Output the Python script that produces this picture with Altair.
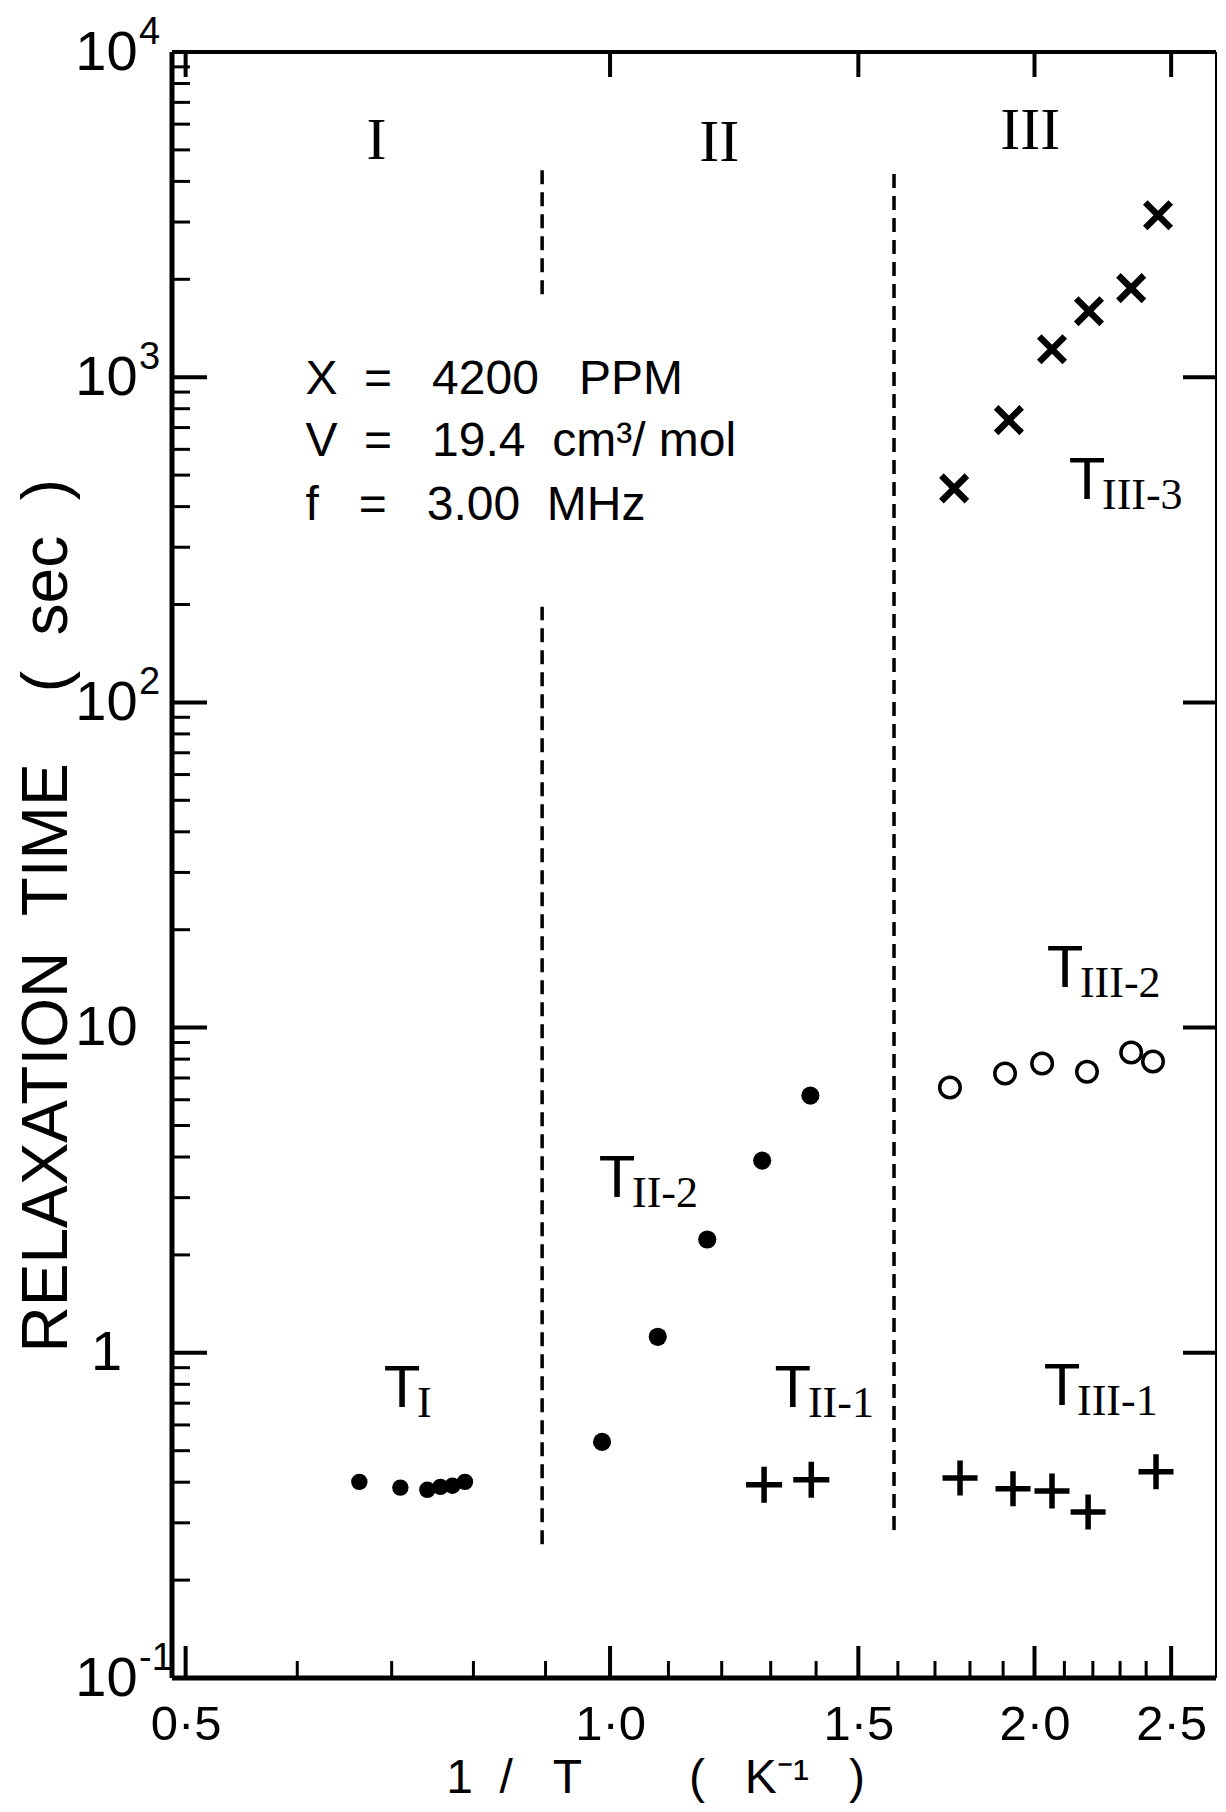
import altair as alt
import pandas as pd

# ---------------- data ----------------
# T_I (filled circles)
tI_x = [0.664, 0.710, 0.742, 0.758, 0.773, 0.789]
tI_y = [0.401, 0.385, 0.379, 0.387, 0.390, 0.401]
# T_II-2 (filled circles)
tII2_x = [0.987, 1.081, 1.172, 1.282, 1.387]
tII2_y = [0.532, 1.12, 2.23, 3.90, 6.18]
# T_II-1 (plus)
tII1_x = [1.286, 1.389]
tII1_y = [0.393, 0.407]
# T_III-1 (plus)
tIII1_x = [1.771, 1.931, 2.058, 2.183, 2.439]
tIII1_y = [0.412, 0.382, 0.376, 0.324, 0.431]
# T_III-2 (open circles)
tIII2_x = [1.742, 1.906, 2.025, 2.179, 2.342, 2.427]
tIII2_y = [6.54, 7.22, 7.75, 7.32, 8.38, 7.86]
# T_III-3 (crosses)
tIII3_x = [1.754, 1.918, 2.058, 2.186, 2.342, 2.447]
tIII3_y = [455, 738, 1219, 1596, 1879, 3148]

# region separators (dashed)
sep_x = [0.895, 0.895, 1.59]
sep_y1 = [1800, 0.258, 0.285]
sep_y2 = [4335, 197, 4274]

# region labels
reg_x = [0.683, 1.195, 1.986]
reg_y = [4688, 4624, 5030]
reg_t = ["I", "II", "III"]

# series labels (T + subscript)
lab_x = [0.712, 1.348, 1.0115, 2.092, 2.102, 2.179]
lab_y = [0.682, 0.682, 3.02, 0.692, 13.37, 421]
lab_sub = ["I", "II-1", "II-2", "III-1", "III-2", "III-3"]

# info text
NB = "\u00a0"
info_x = [0.608, 0.608, 0.608]
info_y = [887, 571, 363]
info_t = [
    f"X{NB*2}={NB*3}4200{NB*3}PPM",
    f"V{NB*2}={NB*3}19.4{NB*2}cm³/{NB}mol",
    f"f{NB*3}={NB*3}3.00{NB*2}MHz",
]

# axis ticks / labels
x_major = [0.5, 1.0, 1.5, 2.0, 2.5]
x_minor = [0.6, 0.7, 0.8, 0.9, 1.1, 1.2, 1.3, 1.4, 1.6, 1.7, 1.8, 1.9,
           2.1, 2.2, 2.3, 2.4]
y_major = [0.1, 1, 10, 100, 1000, 10000]
y_minor = [2, 3, 4, 5, 6, 7, 8, 9,
           20, 30, 40, 50, 60, 70, 80, 90,
           200, 300, 400, 500, 600, 700, 800, 900,
           2000, 3000, 4000, 5000, 6000, 7000, 8000, 9000,
           0.2, 0.3, 0.4, 0.5, 0.6, 0.7, 0.8, 0.9]
y_inner = [1, 10, 100, 1000]
exp_vals = [0.1, 100, 1000, 10000]
exp_text = ["-1", "2", "3", "4"]

x_title = f"1{NB*2}/{NB*3}T{NB*8}({NB*3}K⁻¹{NB*3})"
y_title = f"RELAXATION{NB*2}TIME{NB*4}({NB*2}sec{NB*2})"

# ---------------- chart ----------------
W, H = 1044, 1626
SANS = "Liberation Sans"
SERIF = "Liberation Serif"
xs = alt.Scale(type="log", domain=[0.489, 2.69], nice=False)
ys = alt.Scale(type="log", domain=[0.1, 10000], nice=False)

x_axis = alt.Axis(
    values=x_major,
    labelExpr="replace(format(datum.value, '.1f'), '.', '·')",
    ticks=False, domain=False, grid=False,
    labelFont=SANS, labelFontSize=49, labelPadding=22, labelColor="black",
    labelFlush=False, labelOverlap=False,
    title=x_title, titleFont=SANS, titleFontSize=48, titleFontWeight="normal",
    titleColor="black", titleX=483, titleY=114, titleAlign="center",
    titleBaseline="alphabetic",
)
y_axis = alt.Axis(
    values=y_major,
    labelExpr="datum.value == 1 ? '1' : '10'",
    ticks=False, domain=False, grid=False,
    labelFont=SANS, labelFontSize=56, labelPadding=66, labelColor="black",
    labelAlign="center", labelBaseline="middle", labelFlush=False,
    labelOverlap=False,
    title=y_title, titleFont=SANS, titleFontSize=64, titleFontWeight="normal",
    titleColor="black", titleAngle=270, titleX=-125, titleY=1300,
    titleAlign="left", titleBaseline="middle",
)


def X(f):
    return alt.X(f, type="quantitative", scale=xs, axis=x_axis)


def Y(f):
    return alt.Y(f, type="quantitative", scale=ys, axis=y_axis)


one = pd.DataFrame({"a": [0]})

# ticks
bx_major = alt.Chart(pd.DataFrame({"v": x_major})).mark_rule(
    color="black", strokeWidth=4).encode(
    x=X("v"), y=alt.value(H), y2=alt.value(H - 32))
bx_minor = alt.Chart(pd.DataFrame({"v": x_minor})).mark_rule(
    color="black", strokeWidth=3).encode(
    x=X("v"), y=alt.value(H), y2=alt.value(H - 17))
tx_major = alt.Chart(pd.DataFrame({"v": x_major})).mark_rule(
    color="black", strokeWidth=4).encode(
    x=X("v"), y=alt.value(0), y2=alt.value(25))
ly_major = alt.Chart(pd.DataFrame({"v": y_major})).mark_rule(
    color="black", strokeWidth=4).encode(
    y=Y("v"), x=alt.value(0), x2=alt.value(35))
ly_minor = alt.Chart(pd.DataFrame({"v": y_minor})).mark_rule(
    color="black", strokeWidth=3).encode(
    y=Y("v"), x=alt.value(0), x2=alt.value(18))
ry_major = alt.Chart(pd.DataFrame({"v": y_inner})).mark_rule(
    color="black", strokeWidth=4).encode(
    y=Y("v"), x=alt.value(W), x2=alt.value(W - 33))

# exponents of the y labels
exps = alt.Chart(pd.DataFrame({"v": exp_vals, "t": exp_text})).mark_text(
    font=SANS, fontSize=38, align="left", baseline="alphabetic", dy=-8,
    color="black").encode(y=Y("v"), x=alt.value(-33), text="t:N")

# frame
frame_l = alt.Chart(one).mark_rule(color="black", strokeWidth=5).encode(
    x=alt.value(0), y=alt.value(0), y2=alt.value(H))
frame_b = alt.Chart(one).mark_rule(color="black", strokeWidth=5).encode(
    y=alt.value(H), x=alt.value(0), x2=alt.value(W))
frame_t = alt.Chart(one).mark_rule(color="black", strokeWidth=4).encode(
    y=alt.value(0), x=alt.value(0), x2=alt.value(W))
frame_r = alt.Chart(one).mark_rule(color="black", strokeWidth=2).encode(
    x=alt.value(W), y=alt.value(0), y2=alt.value(H))

# separators
seps = alt.Chart(pd.DataFrame({"x": sep_x, "y1": sep_y1, "y2": sep_y2})).mark_rule(
    color="black", strokeWidth=3.5, strokeDash=[14, 8]).encode(
    x=X("x"), y=Y("y1"), y2="y2:Q")

PLUS = "M-1,0L1,0M0,-1L0,1"
CROSS = "M-1,-1L1,1M-1,1L1,-1"

pts_tI = alt.Chart(pd.DataFrame({"x": tI_x, "y": tI_y})).mark_circle(
    size=270, color="black", opacity=1).encode(x=X("x"), y=Y("y"))
pts_tII2 = alt.Chart(pd.DataFrame({"x": tII2_x, "y": tII2_y})).mark_circle(
    size=330, color="black", opacity=1).encode(x=X("x"), y=Y("y"))
pts_tII1 = alt.Chart(pd.DataFrame({"x": tII1_x, "y": tII1_y})).mark_point(
    shape=PLUS, size=1300, strokeWidth=5.5, color="black", filled=False,
    opacity=1).encode(x=X("x"), y=Y("y"))
pts_tIII1 = alt.Chart(pd.DataFrame({"x": tIII1_x, "y": tIII1_y})).mark_point(
    shape=PLUS, size=1225, strokeWidth=5.5, color="black", filled=False,
    opacity=1).encode(x=X("x"), y=Y("y"))
pts_tIII2 = alt.Chart(pd.DataFrame({"x": tIII2_x, "y": tIII2_y})).mark_point(
    shape="circle", size=420, strokeWidth=3.5, color="black", filled=False,
    opacity=1).encode(x=X("x"), y=Y("y"))
pts_tIII3 = alt.Chart(pd.DataFrame({"x": tIII3_x, "y": tIII3_y})).mark_point(
    shape=CROSS, size=650, strokeWidth=6.5, color="black", filled=False,
    opacity=1).encode(x=X("x"), y=Y("y"))

# texts
regions = alt.Chart(pd.DataFrame({"x": reg_x, "y": reg_y, "t": reg_t})).mark_text(
    font=SERIF, fontSize=60, align="center", baseline="alphabetic",
    color="black").encode(x=X("x"), y=Y("y"), text="t:N")
lab_df = pd.DataFrame({"x": lab_x, "y": lab_y, "s": lab_sub})
lab_T = alt.Chart(lab_df).mark_text(
    text="T", font=SANS, fontSize=60, align="center", baseline="alphabetic",
    color="black").encode(x=X("x"), y=Y("y"))
lab_S = alt.Chart(lab_df).mark_text(
    font=SERIF, fontSize=44, align="left", baseline="alphabetic", dx=15, dy=10,
    color="black").encode(x=X("x"), y=Y("y"), text="s:N")
info = alt.Chart(pd.DataFrame({"x": info_x, "y": info_y, "t": info_t})).mark_text(
    font=SANS, fontSize=48, align="left", baseline="alphabetic",
    color="black").encode(x=X("x"), y=Y("y"), text="t:N")

chart = alt.layer(
    bx_major, bx_minor, tx_major, ly_major, ly_minor, ry_major, exps,
    frame_l, frame_b, frame_t, frame_r, seps,
    pts_tI, pts_tII2, pts_tII1, pts_tIII1, pts_tIII2, pts_tIII3,
    regions, lab_T, lab_S, info,
).properties(
    width=W, height=H,
    autosize=alt.AutoSizeParams(type="none"),
    padding={"left": 164, "top": 44, "right": 2, "bottom": 126},
    background="white",
).configure_view(stroke=None)

chart.save("out.html", embed_options={"renderer": "svg", "actions": False})
